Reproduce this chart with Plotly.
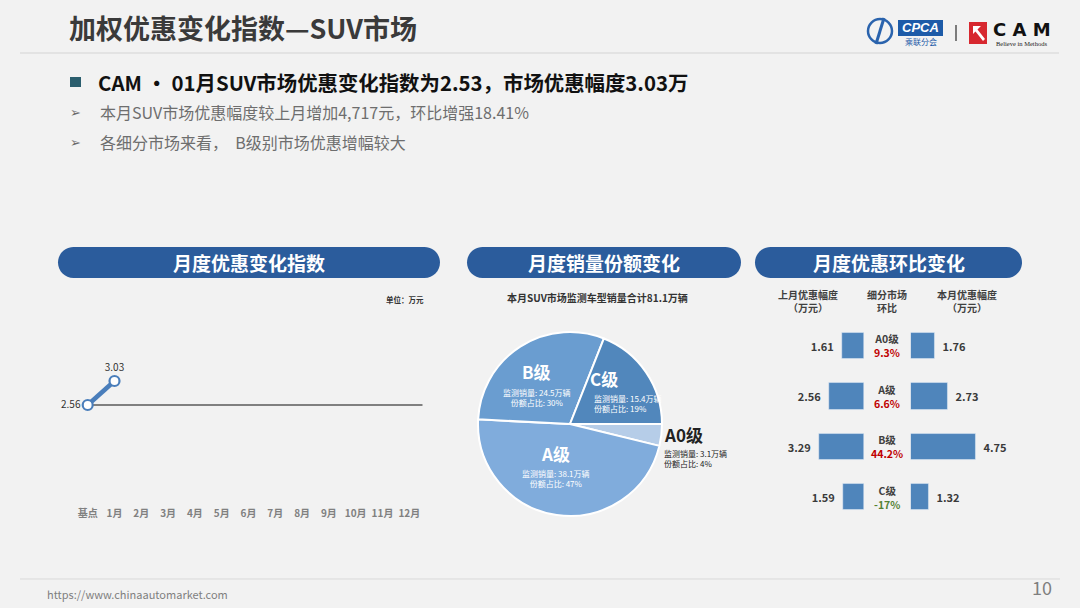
import plotly.graph_objects as go

W, H = 1080, 608
FONT = "Noto Sans CJK SC"

# ---- data ----
months = ["基点", "1月", "2月", "3月", "4月", "5月", "6月", "7月", "8月", "9月", "10月", "11月", "12月"]
index_values = [2.56, 3.03]          # 万元

segments = ["A0级", "A级", "B级", "C级"]
sales = [3.1, 38.1, 24.5, 15.4]      # 万辆
shares = [4, 47, 30, 19]             # %
total_sales = 81.1

last_month = [1.61, 2.56, 3.29, 1.59]   # 上月优惠幅度 万元
this_month = [1.76, 2.73, 4.75, 1.32]   # 本月优惠幅度 万元
mom_change = [9.3, 6.6, 44.2, -17.0]    # 环比 %

pie_colors = ["#b6cde8", "#80acdc", "#6a9dd0", "#5187bc"]
bar_color = "#4f85bb"


def px(x):
    return x / W


def py(y):
    return 1 - y / H


def pill(x0, x1, y0, y1):
    r = (y1 - y0) / 2
    k = 0.552 * r
    ym = (y0 + y1) / 2
    pts = [
        ("M", [(x0 + r, y0)]),
        ("L", [(x1 - r, y0)]),
        ("C", [(x1 - r + k, y0), (x1, ym - k), (x1, ym)]),
        ("C", [(x1, ym + k), (x1 - r + k, y1), (x1 - r, y1)]),
        ("L", [(x0 + r, y1)]),
        ("C", [(x0 + r - k, y1), (x0, ym + k), (x0, ym)]),
        ("C", [(x0, ym - k), (x0 + r - k, y0), (x0 + r, y0)]),
    ]
    path = " ".join(c + " " + " ".join(f"{px(a):.5f},{py(b):.5f}" for a, b in p) for c, p in pts) + " Z"
    return dict(type="path", xref="paper", yref="paper", path=path,
                fillcolor="#2b5c9c", line=dict(width=0), layer="below")


fig = go.Figure()

# ---- chart 1: monthly index line ----
fig.add_trace(go.Scatter(
    x=list(range(len(index_values))), y=index_values,
    mode="lines+markers+text",
    line=dict(color="#4a7ebb", width=4.5),
    marker=dict(size=10, color="white", line=dict(color="#4a7ebb", width=2.2)),
    text=[f"{v:.2f}" for v in index_values],
    textposition=["middle left"] + ["top center"] * (len(index_values) - 1),
    textfont=dict(family=FONT, size=10, color="#333333"),
    cliponaxis=False, showlegend=False, xaxis="x", yaxis="y",
))

# ---- chart 2: pie ----
fig.add_trace(go.Pie(
    labels=segments, values=sales, sort=False, direction="clockwise", rotation=90,
    marker=dict(colors=pie_colors, line=dict(color="white", width=2)),
    textinfo="none", showlegend=False,
    domain=dict(x=[px(478), px(662)], y=[py(516), py(332)]),
))

# ---- chart 3: butterfly bars ----
fig.add_trace(go.Bar(
    x=last_month, y=segments, orientation="h", xaxis="x2", yaxis="y2",
    marker=dict(color=bar_color), width=0.52,
    texttemplate="<b>%{x:.2f}</b>  ", textposition="outside", cliponaxis=False,
    textfont=dict(family=FONT, size=11, color="#3a3a3a"), showlegend=False,
))
fig.add_trace(go.Bar(
    x=this_month, y=segments, orientation="h", xaxis="x3", yaxis="y3",
    marker=dict(color=bar_color), width=0.52,
    texttemplate="  <b>%{x:.2f}</b>", textposition="outside", cliponaxis=False,
    textfont=dict(family=FONT, size=11, color="#3a3a3a"), showlegend=False,
))

k = 13.65  # px per 万元
hidden = dict(showgrid=False, zeroline=False, showline=False, showticklabels=False, ticks="", fixedrange=True)
fig.update_layout(
    width=W, height=H, margin=dict(l=0, r=0, t=0, b=0),
    paper_bgcolor="#f2f2f2", plot_bgcolor="rgba(0,0,0,0)",
    font=dict(family=FONT),
    xaxis=dict(domain=[px(74.3), px(422.7)], range=[-0.5, len(months) - 0.5],
               tickvals=list(range(len(months))), ticktext=[f"<b>{m}</b>" for m in months],
               tickfont=dict(family=FONT, size=10, color="#808080"),
               showgrid=False, zeroline=False, showline=False, ticks="", anchor="y"),
    yaxis=dict(domain=[py(506), py(320)], range=[0.582, 4.225], anchor="x", **hidden),
    xaxis2=dict(domain=[px(780), px(864.3)], range=[(864.3 - 780) / k, 0], anchor="y2", **hidden),
    yaxis2=dict(domain=[py(522.2), py(320.8)], range=[3.5, -0.5], type="category", anchor="x2", **hidden),
    xaxis3=dict(domain=[px(910.7), px(1010)], range=[0, (1010 - 910.7) / k], anchor="y3", **hidden),
    yaxis3=dict(domain=[py(522.2), py(320.8)], range=[3.5, -0.5], type="category", anchor="x3", **hidden),
    bargap=0,
)

shapes = []
ann = []


def text(x, y, s, size, color, xanchor="left", bold=False, family=FONT, **kw):
    ann.append(dict(x=px(x), y=py(y), xref="paper", yref="paper", text=f"<b>{s}</b>" if bold else s,
                    showarrow=False, xanchor=xanchor, yanchor="middle",
                    font=dict(family=family, size=size, color=color), **kw))


# baseline of index chart
shapes.append(dict(type="line", xref="x", yref="y", x0=0, x1=len(months) - 0.5,
                   y0=index_values[0], y1=index_values[0], line=dict(color="#808080", width=2), layer="below"))

# header area
text(67, 27, "加权优惠变化指数—SUV市场", 27, "#3a3a3a", bold=True)
shapes.append(dict(type="line", xref="paper", yref="paper", x0=px(20), x1=px(1059), y0=py(53), y1=py(53),
                   line=dict(color="#d4d4d4", width=1)))
shapes.append(dict(type="rect", xref="paper", yref="paper", x0=px(70), x1=px(81), y0=py(87), y1=py(77),
                   fillcolor="#2b5e6e", line=dict(width=0)))
text(96, 82, "CAM • 01月SUV市场优惠变化指数为2.53，市场优惠幅度3.03万", 20.4, "#111111", bold=True)
text(68, 112, "➢", 13, "#6a6a6a", family="DejaVu Sans")
text(98, 112, "本月SUV市场优惠幅度较上月增加4,717元，环比增强18.41%", 16, "#6e6e6e")
text(68, 142, "➢", 13, "#6a6a6a", family="DejaVu Sans")
text(98, 142, "各细分市场来看，  B级别市场优惠增幅较大", 16, "#6e6e6e")

# logos
shapes.append(dict(type="circle", xref="paper", yref="paper", x0=px(868), x1=px(892), y0=py(43), y1=py(19),
                   line=dict(color="#2a63ad", width=2.5)))
shapes.append(dict(type="line", xref="paper", yref="paper", x0=px(876), x1=px(884), y0=py(44), y1=py(18),
                   line=dict(color="#2a63ad", width=3)))
shapes.append(dict(type="rect", xref="paper", yref="paper", x0=px(898), x1=px(943), y0=py(36), y1=py(20),
                   fillcolor="#1d5ba8", line=dict(width=0)))
text(920.5, 28, "<i>CPCA</i>", 13, "white", xanchor="center", bold=True, family="Liberation Sans")
text(921, 41.5, "乘联分会", 8, "#1d5ba8", xanchor="center")
shapes.append(dict(type="line", xref="paper", yref="paper", x0=px(956), x1=px(956), y0=py(41), y1=py(25),
                   line=dict(color="#555555", width=1.5)))
shapes.append(dict(type="rect", xref="paper", yref="paper", x0=px(969), x1=px(987), y0=py(44), y1=py(22),
                   fillcolor="#d7282f", line=dict(width=0)))
shapes.append(dict(type="path", xref="paper", yref="paper",
                   path=f"M {px(973):.5f},{py(26):.5f} L {px(981):.5f},{py(26):.5f} L {px(977.5):.5f},{py(29.5):.5f} "
                        f"L {px(985):.5f},{py(39):.5f} L {px(983):.5f},{py(41):.5f} L {px(975.5):.5f},{py(31.5):.5f} "
                        f"L {px(973):.5f},{py(34):.5f} Z",
                   fillcolor="white", line=dict(width=0)))
text(991, 29, "C A M", 18, "#111111", bold=True, family="DejaVu Sans")
text(994, 43.5, "Believe in Methods", 6.5, "#222222", family="Liberation Serif")

# pills
for (x0, x1), label in zip([(58, 440), (467, 741), (755, 1022)], ["月度优惠变化指数", "月度销量份额变化", "月度优惠环比变化"]):
    shapes.append(pill(x0, x1, 247, 278))
    text((x0 + x1) / 2, 262.5, label, 19, "white", xanchor="center", bold=True)

# chart 1 unit
text(425.7, 299, "单位：万元", 7.5, "#333333", xanchor="right", bold=True)

# pie title and labels
text(597, 298, f"本月SUV市场监测车型销量合计{total_sales}万辆", 10, "#333333", xanchor="center", bold=True)
pie_label_pos = {
    "A0级": (661.5, 434, 458.8, "left", "#222222"),
    "A级": (555.7, 453.3, 478.7, "center", "white"),
    "B级": (536.7, 371.7, 397.2, "center", "white"),
    "C级": (591.7, 378.3, 403.8, "left", "white"),
}
for seg, s, p in zip(segments, sales, shares):
    x, yh, ys, anchor, col = pie_label_pos[seg]
    hx = x + 12.3 if seg == "C级" else x
    text(hx, yh, seg, 17, col, xanchor=anchor if seg != "C级" else "center", bold=True)
    ann.append(dict(x=px(x), y=py(ys), xref="paper", yref="paper",
                    text=f"监测销量: {s}万辆<br>份额占比: {p}%", showarrow=False,
                    xanchor=anchor, yanchor="middle", align=anchor,
                    font=dict(family=FONT, size=8, color=col)))

# chart 3 headers and centre labels
for x, s in [(808.3, "上月优惠幅度<br>（万元）"), (886.7, "细分市场<br>环比"), (966.7, "本月优惠幅度<br>（万元）")]:
    ann.append(dict(x=px(x), y=py(301), xref="paper", yref="paper", text=f"<b>{s}</b>", showarrow=False,
                    xanchor="center", yanchor="middle", font=dict(family=FONT, size=10, color="#404040")))
for seg, chg in zip(segments, mom_change):
    col = "#c00000" if chg >= 0 else "#548235"
    ann.append(dict(x=px(887.3), y=seg, xref="paper", yref="y2",
                    text=f"<b>{seg}</b><br><b><span style='color:{col}'>{chg:g}%</span></b>",
                    showarrow=False, xanchor="center", yanchor="middle",
                    font=dict(family=FONT, size=10.5, color="#404040")))

# footer
shapes.append(dict(type="line", xref="paper", yref="paper", x0=px(20), x1=px(1060), y0=py(579), y1=py(579),
                   line=dict(color="#d9d9d9", width=1)))
text(45, 594, "https://www.chinaautomarket.com", 11, "#7f7f7f")
text(1054, 587, "10", 18, "#7f7f7f", xanchor="right")

fig.update_layout(shapes=shapes, annotations=ann)
fig.write_html("out.html", config={"displayModeBar": False},
               post_script="document.body.style.margin='0';")
